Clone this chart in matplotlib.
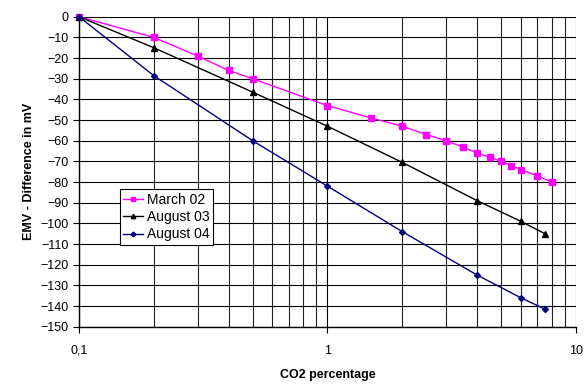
import numpy as np
import matplotlib
matplotlib.use("Agg")
import matplotlib.pyplot as plt
from matplotlib.ticker import FixedLocator, FixedFormatter, NullFormatter

plt.rcParams['font.family'] = ['Liberation Sans', 'DejaVu Sans']

# CO2 percentage vs EMV difference (mV)
march02_x = [0.1, 0.2, 0.3, 0.4, 0.5, 1.0, 1.5, 2.0, 2.5, 3.0, 3.5, 4.0, 4.5, 5.0, 5.5, 6.0, 7.0, 8.0]
march02_y = [0, -10, -19, -26, -30, -43, -49, -53, -57, -60, -63, -66, -68, -70, -72, -74, -77, -80]

aug03_x = [0.1, 0.2, 0.5, 1.0, 2.0, 4.0, 6.0, 7.5]
aug03_y = [0, -15, -36.5, -53, -70.5, -89, -99, -105]

aug04_x = [0.1, 0.2, 0.5, 1.0, 2.0, 4.0, 6.0, 7.5]
aug04_y = [0, -28.5, -60, -82, -104, -125, -136, -141.5]

x_ticks = [0.1, 1, 10]
x_ticklabels = ["0,1", "1", "10"]
y_ticks = list(range(0, -151, -10))

fig = plt.figure(figsize=(5.85, 3.85), dpi=100)
ax = fig.add_axes([0.135, 0.1514, 0.8496, 0.8052])

ax.plot(march02_x, march02_y, color='#FF00FF', marker='s', markersize=4,
        lw=1.0, label='March 02', clip_on=False, zorder=5)
ax.plot(aug03_x, aug03_y, color='black', marker='^', markersize=4,
        lw=1.0, label='August 03', clip_on=False, zorder=5)
ax.plot(aug04_x, aug04_y, color='#000080', marker='D', markersize=3,
        lw=1.0, label='August 04', clip_on=False, zorder=5)

ax.set_xscale('log')
ax.set_xlim(0.1, 10)
ax.set_ylim(-150, 0)

ax.xaxis.set_major_locator(FixedLocator(x_ticks))
ax.xaxis.set_major_formatter(FixedFormatter(x_ticklabels))
minor = [m * d for d in (0.1, 1) for m in range(2, 10)]
ax.xaxis.set_minor_locator(FixedLocator(minor))
ax.xaxis.set_minor_formatter(NullFormatter())
ax.set_yticks(y_ticks)

ax.grid(True, which='major', axis='both', color='black', lw=0.8)
ax.grid(True, which='minor', axis='x', color='#222222', lw=0.8)
ax.set_axisbelow(True)

for s in ('top', 'right'):
    ax.spines[s].set_visible(False)
for s in ('left', 'bottom'):
    ax.spines[s].set_color('black')
    ax.spines[s].set_linewidth(1.0)

ax.tick_params(axis='both', which='major', direction='out', length=4,
               width=0.8, labelsize=9, colors='black')
ax.tick_params(axis='x', which='minor', length=0)
ax.tick_params(axis='x', which='major', pad=9)

ax.set_xlabel('CO2 percentage', fontsize=9, fontweight='bold', labelpad=9)
ax.set_ylabel('EMV - Difference in mV', fontsize=9, fontweight='bold', labelpad=4)

leg = ax.legend(loc='upper left', bbox_to_anchor=(0.0825, 0.444), fontsize=10,
                frameon=True, fancybox=False, edgecolor='black', framealpha=1,
                handlelength=1.4, handletextpad=0.3, labelspacing=0.25,
                borderpad=0.25, borderaxespad=0, markerscale=0.8)
leg.get_frame().set_linewidth(0.8)

fig.savefig('out.png', dpi=100)
